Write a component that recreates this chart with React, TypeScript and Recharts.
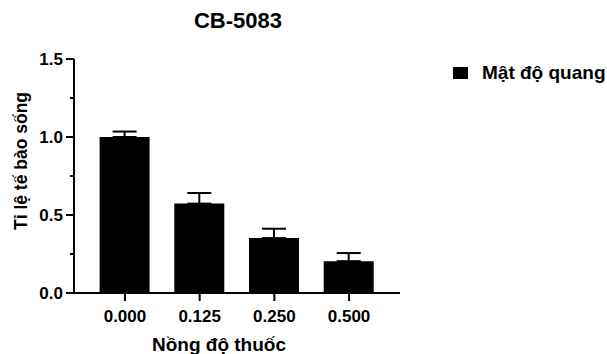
import { BarChart, Bar, XAxis, YAxis, ErrorBar, Legend, Label } from 'recharts';

const doses = ['0.000', '0.125', '0.250', '0.500'];
const viability = [1.0, 0.573, 0.352, 0.204];
const sd = [0.035, 0.068, 0.06, 0.052];
const yTicks = [0, 0.25, 0.5, 0.75, 1, 1.25, 1.5];

const FONT = '"Liberation Sans", Arial, sans-serif';

const data = doses.map((d, i) => ({
  dose: d,
  value: viability[i],
  err: [0, sd[i]],
}));

// major ticks get a label and a long tick, minor ones only a short tick
const YTick = (props: any) => {
  const { x, y, payload } = props;
  const major = Math.abs((payload.value * 2) % 1) < 1e-6;
  const axisX = Number(x) + 11;
  return (
    <g>
      <path d={`M${axisX - (major ? 8 : 4)},${y}H${axisX}`} stroke="#000" strokeWidth={2} />
      {major && (
        <text x={x} y={y} dy="0.36em" textAnchor="end" fontFamily={FONT} fontWeight="bold" fontSize={17} fill="#000">
          {payload.value.toFixed(1)}
        </text>
      )}
    </g>
  );
};

const LegendBox = () => (
  <div style={{ display: 'flex', alignItems: 'center', fontFamily: FONT, fontWeight: 'bold', fontSize: 19, color: '#000', whiteSpace: 'nowrap' }}>
    <svg width={15} height={12} style={{ marginRight: 14 }}>
      <rect width={15} height={12} fill="#000" />
    </svg>
    <span>Mật độ quang</span>
  </div>
);

export default function App() {
  return (
    <div style={{ position: 'absolute', left: 0, top: 0, width: 607, height: 354 }}>
      <div
        style={{
          position: 'absolute', left: 0, top: 8, width: 476, textAlign: 'center',
          fontFamily: FONT, fontWeight: 'bold', fontSize: 22, color: '#000', zIndex: 2,
        }}
      >
        CB-5083
      </div>
      <BarChart width={607} height={354} data={data} margin={{ top: 59, right: 207, bottom: 21, left: 0 }}>
        <XAxis
          dataKey="dose"
          padding={{ left: 13.6, right: 13.6 }}
          axisLine={{ stroke: '#000', strokeWidth: 2 }}
          tickLine={{ stroke: '#000', strokeWidth: 2 }}
          tickSize={8}
          tickMargin={9}
          height={40}
          tick={{ fill: '#000', fontFamily: FONT, fontWeight: 'bold', fontSize: 17 }}
        >
          <Label
            content={() => (
              <text x={219} y={351} textAnchor="middle" fontFamily={FONT} fontWeight="bold" fontSize={19} fill="#000">
                Nồng độ thuốc
              </text>
            )}
          />
        </XAxis>
        <YAxis
          domain={[0, 1.5]}
          ticks={yTicks}
          interval={0}
          width={74}
          axisLine={{ stroke: '#000', strokeWidth: 2 }}
          tickLine={false}
          tickSize={8}
          tickMargin={3}
          tick={<YTick />}
        >
          <Label
            content={() => (
              <text
                x={27}
                y={161}
                textAnchor="middle"
                transform="rotate(-90, 27, 161)"
                fontFamily={FONT}
                fontWeight="bold"
                fontSize={17.5}
                fill="#000"
              >
                Tỉ lệ tế bào sống
              </text>
            )}
          />
        </YAxis>
        <Legend
          layout="vertical"
          align="center"
          verticalAlign="middle"
          content={<LegendBox />}
          wrapperStyle={{ position: 'absolute', left: 453, top: 62, width: 160 }}
        />
        <Bar dataKey="value" name="Mật độ quang" fill="#000" barSize={50} isAnimationActive={false}>
          <ErrorBar dataKey="err" direction="y" width={12} stroke="#000" strokeWidth={2} isAnimationActive={false} />
        </Bar>
      </BarChart>
    </div>
  );
}
